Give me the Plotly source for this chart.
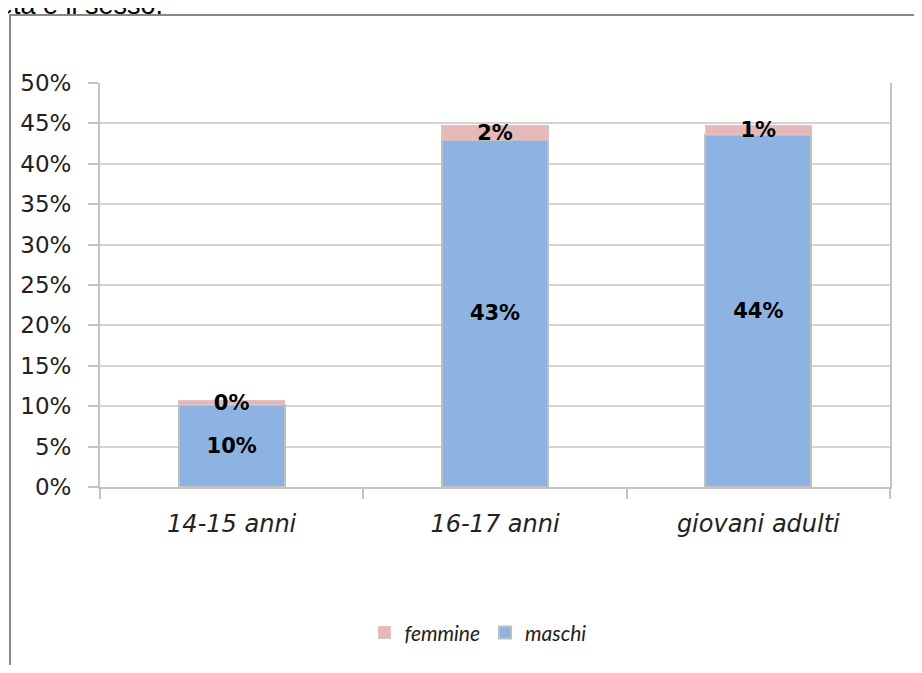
import plotly.graph_objects as go

# data (share of respondents)
categories = ['14-15 anni', '16-17 anni', 'giovani adulti']
maschi = [0.102, 0.430, 0.436]
femmine = [0.0045, 0.017, 0.011]
y_ticks = [0, 0.05, 0.10, 0.15, 0.20, 0.25, 0.30, 0.35, 0.40, 0.45, 0.50]

# the page has an 8px body margin, so the figure is a bit smaller
OFF = 8
W, H = 922 - 2 * OFF, 673 - 2 * OFF
# plot area in page pixels: left 100, right 890, top 83, bottom 493
L, R, T, B = 100 - OFF, 890 - OFF, 83 - OFF, 493 - OFF


def px_x(x):
    return (x - OFF - L) / (R - L)


def px_y(y):
    return (B - (y - OFF)) / (B - T)


label_font = dict(family='DejaVu Sans', size=21, color='black', weight='bold')

fig = go.Figure()
fig.add_trace(go.Bar(
    name='maschi',
    x=categories,
    y=maschi,
    marker=dict(color='#8db3e2', line=dict(color='#bfbfbf', width=2)),
    texttemplate='%{y:.0%}',
    textposition='inside',
    insidetextanchor='middle',
    constraintext='none',
    textfont=label_font,
))
fig.add_trace(go.Bar(
    name='femmine',
    x=categories,
    y=femmine,
    marker=dict(color='#e6b8b7', line=dict(color='#e0c4c4', width=1)),
    texttemplate='%{y:.0%}',
    textposition='inside',
    insidetextanchor='middle',
    constraintext='none',
    textfont=label_font,
))

fig.update_layout(
    width=W, height=H,
    barmode='stack',
    bargap=0.597,
    plot_bgcolor='white',
    paper_bgcolor='white',
    margin=dict(l=L, r=W - R, t=T, b=H - B, pad=0),
    showlegend=True,
    legend=dict(
        orientation='h', traceorder='reversed',
        x=px_x(478), xanchor='center', y=px_y(641), yanchor='middle',
        font=dict(family='Lato', size=21, color='#222', style='italic'),
        itemwidth=30,
    ),
)

fig.update_yaxes(
    range=[0, 0.5],
    tickvals=y_ticks,
    tickformat='.0%',
    showgrid=True, gridcolor='#d4d4d4', gridwidth=1.5,
    showline=True, linecolor='#c4c4c4', linewidth=2, mirror=True,
    ticks='outside', ticklen=10, tickcolor='#c4c4c4', tickwidth=1.5,
    ticklabelstandoff=12,
    tickfont=dict(family='DejaVu Sans', size=23, color='#222'),
    zeroline=False,
)
fig.update_xaxes(
    showgrid=False,
    showline=True, linecolor='#c4c4c4', linewidth=2,
    ticks='outside', tickson='boundaries', ticklen=10, tickcolor='#c4c4c4', tickwidth=1.5,
    ticklabelstandoff=14,
    tickfont=dict(family='DejaVu Sans', size=24, color='#222', style='italic'),
)

# outer chart frame, partly outside the page
fig.add_shape(
    type='rect', xref='paper', yref='paper',
    x0=px_x(10), x1=px_x(960), y0=px_y(720), y1=px_y(14),
    line=dict(color='#888888', width=2), fillcolor='rgba(0,0,0,0)', layer='below',
)

# line of document text above the chart, cut at the top as in the source
fig.add_annotation(
    text='età e il sesso.', xref='paper', yref='paper',
    x=px_x(-4), y=px_y(21), xanchor='left', yanchor='bottom',
    showarrow=False,
    font=dict(family='Liberation Sans', size=27, color='black'),
)

fig.write_html('out.html')
